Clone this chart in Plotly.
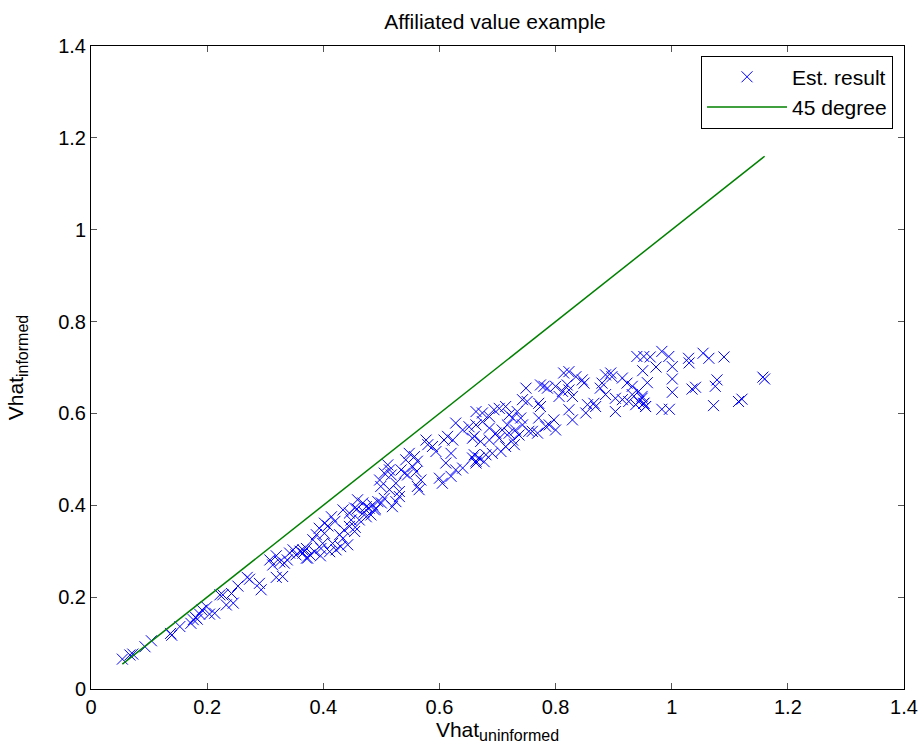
import plotly.graph_objects as go

# Estimated result points (Vhat_uninformed, Vhat_informed)
x_est = [
    0.054, 0.067, 0.072, 0.093, 0.104, 0.137, 0.139, 0.153, 0.172, 0.176,
    0.180, 0.183, 0.187, 0.191, 0.199, 0.204, 0.213, 0.222, 0.227, 0.233,
    0.245, 0.242, 0.253, 0.269, 0.273, 0.290, 0.293, 0.308, 0.313, 0.319,
    0.325, 0.333, 0.330, 0.319, 0.348, 0.353, 0.365, 0.371,
    0.628, 0.640, 0.651, 0.660, 0.614, 0.623, 0.608, 0.577, 0.580, 0.588,
    0.594, 0.620, 0.611, 0.628, 0.640, 0.600, 0.605, 0.620, 0.657, 0.663,
    0.548, 0.557, 0.542, 0.562, 0.554, 0.534, 0.540, 0.545, 0.560, 0.568,
    0.562, 0.565, 0.511, 0.514, 0.505, 0.517, 0.497, 0.499, 0.514, 0.525,
    0.531, 0.531, 0.525, 0.519, 0.505, 0.494, 0.485, 0.479, 0.474, 0.488,
    0.482, 0.468, 0.459, 0.454, 0.445, 0.434, 0.448, 0.462, 0.474,
    0.414, 0.402, 0.393, 0.402, 0.388, 0.382, 0.399, 0.416, 0.428, 0.436,
    0.445, 0.454, 0.434, 0.422, 0.411, 0.396, 0.385, 0.371, 0.365, 0.373,
    0.442, 0.408, 0.420, 0.430, 0.395, 0.377, 0.360, 0.342, 0.338, 0.458,
    0.470, 0.490, 0.500, 0.455,
    0.940, 0.814, 0.823, 0.835, 0.846, 0.849, 0.886, 0.895, 0.897, 0.915,
    0.923, 0.932, 0.943, 0.949, 0.952, 0.955, 0.880, 0.877, 0.774, 0.780,
    0.786, 0.800, 0.812, 0.820, 0.823, 0.829, 0.806, 0.749, 0.743, 0.751,
    0.771, 0.774, 0.855, 0.866, 0.869, 0.886, 0.903, 0.915, 0.926, 0.938,
    0.932, 0.903, 0.852, 0.823, 0.829, 0.797, 0.789, 0.783, 0.800, 0.771,
    0.760, 0.769, 0.754,
    0.663, 0.674, 0.686, 0.694, 0.703, 0.714, 0.720, 0.726, 0.734, 0.740,
    0.717, 0.708, 0.720, 0.731, 0.737, 0.743, 0.674, 0.663, 0.686, 0.697,
    0.657, 0.671, 0.686, 0.703, 0.726, 0.714, 0.706, 0.691, 0.680, 0.668,
    0.660, 0.663, 0.677, 0.729,
    0.952, 0.963, 0.983, 0.995, 1.029, 1.030, 1.054, 1.064, 1.090, 0.950,
    0.973, 1.001, 1.001, 0.958, 1.001, 1.035, 1.041, 1.078, 1.075, 1.157,
    1.160, 1.121, 1.115, 1.072, 0.983, 0.996, 0.949, 0.952, 0.955, 0.943,
]
y_est = [
    0.065, 0.074, 0.076, 0.092, 0.105, 0.121, 0.117, 0.136, 0.143, 0.151,
    0.156, 0.152, 0.163, 0.172, 0.179, 0.163, 0.165, 0.205, 0.205, 0.183,
    0.187, 0.208, 0.224, 0.243, 0.239, 0.230, 0.216, 0.281, 0.270, 0.290,
    0.277, 0.274, 0.245, 0.243, 0.303, 0.292, 0.303, 0.285,
    0.579, 0.564, 0.571, 0.550, 0.550, 0.542, 0.542, 0.542, 0.532, 0.528,
    0.517, 0.513, 0.492, 0.477, 0.481, 0.459, 0.448, 0.463, 0.503, 0.496,
    0.513, 0.506, 0.499, 0.496, 0.484, 0.477, 0.470, 0.466, 0.473, 0.455,
    0.441, 0.434, 0.488, 0.477, 0.470, 0.466, 0.455, 0.441, 0.434, 0.448,
    0.430, 0.419, 0.408, 0.397, 0.415, 0.408, 0.401, 0.394, 0.397, 0.390,
    0.379, 0.405, 0.412, 0.394, 0.383, 0.390, 0.368, 0.368, 0.375,
    0.375, 0.361, 0.350, 0.339, 0.336, 0.325, 0.317, 0.317, 0.336, 0.346,
    0.354, 0.343, 0.328, 0.303, 0.299, 0.306, 0.299, 0.306, 0.296, 0.285,
    0.314, 0.355, 0.365, 0.310, 0.290, 0.292, 0.300, 0.296, 0.281, 0.392,
    0.385, 0.392, 0.405, 0.352,
    0.724, 0.688, 0.691, 0.680, 0.673, 0.666, 0.684, 0.688, 0.680, 0.677,
    0.666, 0.659, 0.648, 0.637, 0.622, 0.615, 0.666, 0.655, 0.662, 0.659,
    0.655, 0.659, 0.648, 0.662, 0.651, 0.637, 0.637, 0.655, 0.630, 0.626,
    0.622, 0.615, 0.619, 0.622, 0.615, 0.641, 0.633, 0.630, 0.626, 0.619,
    0.641, 0.604, 0.601, 0.608, 0.586, 0.586, 0.575, 0.572, 0.564, 0.590,
    0.561, 0.557, 0.561,
    0.604, 0.601, 0.593, 0.608, 0.611, 0.615, 0.597, 0.590, 0.604, 0.590,
    0.575, 0.564, 0.557, 0.564, 0.553, 0.575, 0.582, 0.575, 0.568, 0.557,
    0.546, 0.539, 0.542, 0.546, 0.542, 0.528, 0.517, 0.513, 0.510, 0.503,
    0.510, 0.492, 0.495, 0.532,
    0.724, 0.723, 0.735, 0.724, 0.720, 0.710, 0.731, 0.720, 0.723, 0.693,
    0.701, 0.702, 0.675, 0.667, 0.646, 0.653, 0.657, 0.673, 0.659, 0.679,
    0.675, 0.631, 0.626, 0.617, 0.609, 0.609, 0.633, 0.622, 0.615, 0.626,
]

# 45 degree reference line spans the range of the estimated values
line_ends = [min(x_est), max(x_est)]

tick_vals = [0, 0.2, 0.4, 0.6, 0.8, 1.0, 1.2, 1.4]
tick_text = ["0", "0.2", "0.4", "0.6", "0.8", "1", "1.2", "1.4"]

FONT = "Liberation Sans, Arial, sans-serif"

fig = go.Figure()
fig.add_trace(go.Scatter(
    x=x_est, y=y_est, mode="markers", name="Est. result",
    marker=dict(symbol="x-thin", size=11, color="#0000ff",
                line=dict(color="#0000ff", width=1)),
))
fig.add_trace(go.Scatter(
    x=line_ends, y=line_ends, mode="lines", name="45 degree",
    line=dict(color="#008000", width=1.5),
))

axis_common = dict(
    range=[0, 1.4], tickvals=tick_vals, ticktext=tick_text,
    showgrid=False, zeroline=False, showline=True, linecolor="black",
    linewidth=1, mirror="ticks", ticks="inside", ticklen=6,
    tickcolor="#555555", automargin=False,
    tickfont=dict(family=FONT, size=20, color="black"),
)

fig.update_layout(
    width=921, height=751,
    paper_bgcolor="white", plot_bgcolor="white",
    margin=dict(l=91, r=17, t=46, b=62),
    title=dict(text="Affiliated value example", x=0.5375, xanchor="center",
               y=0.971, yanchor="middle",
               font=dict(family=FONT, size=21, color="black")),
    xaxis=dict(**axis_common,
               title=dict(text="Vhat<sub><span style='font-size:16px'>uninformed</span></sub>",
                          standoff=0,
                          font=dict(family=FONT, size=21, color="black"))),
    yaxis=dict(**axis_common,
               title=dict(text="Vhat<sub><span style='font-size:16px'>informed</span></sub>",
                          standoff=28,
                          font=dict(family=FONT, size=21, color="black"))),
    legend=dict(x=0.9865, y=0.985, xanchor="right", yanchor="top",
                bgcolor="white", bordercolor="black", borderwidth=1,
                font=dict(family=FONT, size=21, color="black"),
                itemwidth=80, tracegroupgap=0),
    showlegend=True,
)

fig.write_html(
    "out.html",
    config={"displayModeBar": False},
    post_script="document.body.style.margin='0';"
                "document.documentElement.style.overflow='hidden';",
)
